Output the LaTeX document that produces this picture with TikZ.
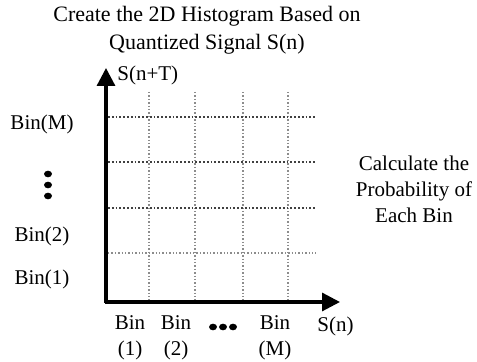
\documentclass[tikz,border=0pt]{standalone}
\usepackage{fontspec}
\setmainfont{Liberation Serif}
\usepackage{tikz}
\usetikzlibrary{
	arrows.meta,
	positioning,
	calc
}
\usepackage{xcolor}

\tikzset{
	lbl/.style={inner sep=0pt, align=center, font=\fontsize{10.5}{13}\selectfont},
	axis/.style={line width=1.6pt, -{Triangle[length=9pt,width=9pt]}},
	hgrid/.style={densely dotted, line width=0.9pt, black!75},
	vgrid/.style={densely dotted, line width=0.7pt, black!45},
	bindot/.style={fill=black}
}

\begin{document}
\begin{tikzpicture}[x=0.5pt,y=-0.5pt]
			
			\useasboundingbox (0,0) rectangle (477,362);
			
			% axes
			\coordinate (origin) at (106,302);
			\coordinate (ytip) at (106,68);
			\coordinate (xtip) at (340,302);
			
			% grid
			\foreach \gx in {149,195,243,288}
				\draw[vgrid] (\gx,92)--(\gx,300);
			\foreach \gy in {117,162,208}
				\draw[hgrid] (108,\gy)--(316,\gy);
			\draw[vgrid] (108,253)--(316,253);
			
			\draw[axis] (origin|-{(0,303)})--(ytip);
			\draw[axis] ($(origin)+(-1,0)$)--(xtip);
			
			\node[lbl, font=\fontsize{11}{14}\selectfont] (title) at (207,30)
				{Create the 2D Histogram Based on\\Quantized Signal S(n)};
			\node[lbl, anchor=west] (ylabel) at (117,75){S(n+T)};
			\node[lbl, anchor=west] (xlabel) at (317,326){S(n)};
			
			\node[lbl] (binM) at (42,124){Bin(M)};
			\node[lbl] (bin2) at (42,236){Bin(2)};
			\node[lbl] (bin1) at (42,279){Bin(1)};
			\fill[bindot] (48,174) ellipse (4 and 3.3);
			\fill[bindot] (48,185) ellipse (4 and 3.3);
			\fill[bindot] (48,196) ellipse (4 and 3.3);
			
			\node[lbl] (xbin1) at (130,338){Bin\\(1)};
			\node[lbl] (xbin2) at (176,338){Bin\\(2)};
			\node[lbl] (xbinM) at (275,338){Bin\\(M)};
			\fill[bindot] (213,327) ellipse (4 and 3.3);
			\fill[bindot] (223,327) ellipse (4 and 3.3);
			\fill[bindot] (233,327) ellipse (4 and 3.3);
			
			\node[lbl] (prob) at (414,189){Calculate the\\Probability of\\Each Bin};
			
		\end{tikzpicture}
\end{document}
